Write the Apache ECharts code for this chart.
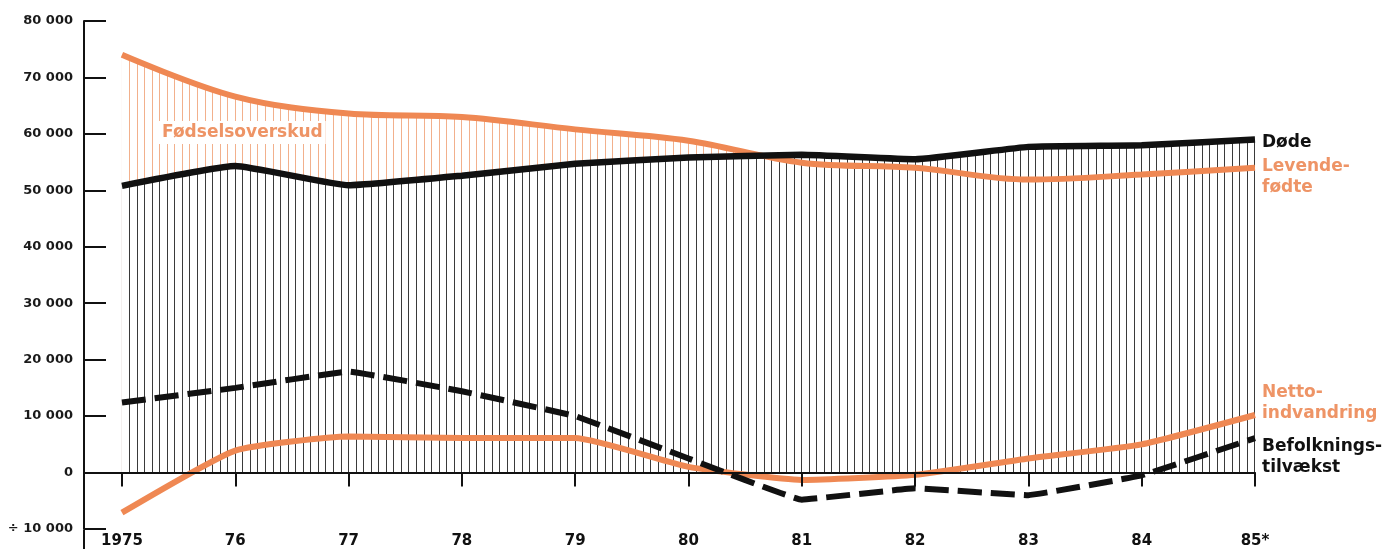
<!DOCTYPE html>
<html><head><meta charset="utf-8">
<script src="https://cdn.jsdelivr.net/npm/echarts@6/dist/echarts.min.js"></script>
<style>html,body{margin:0;padding:0;background:#fff}#c{width:1385px;height:549px}</style>
</head><body><div id="c"></div>
<script>
const years = [1975, 1976, 1977, 1978, 1979, 1980, 1981, 1982, 1983, 1984, 1985];
const yearLabels = ['1975', '76', '77', '78', '79', '80', '81', '82', '83', '84', '85*'];
const levendefodte = [74000, 66600, 63600, 63000, 60800, 58800, 54900, 54000, 51900, 52800, 54000];
const dode = [50800, 54300, 50900, 52600, 54700, 55800, 56300, 55500, 57700, 58000, 59000];
const nettoindvandring = [-7100, 3900, 6400, 6100, 6100, 1000, -1300, -400, 2500, 5000, 10200];
const befolkningstilvaekst = [12400, 15000, 17900, 14400, 10000, 2500, -4800, -2800, -4000, -500, 6100];
const yTicks = [-10000, 0, 10000, 20000, 30000, 40000, 50000, 60000, 70000, 80000];
const hatchPerYear = 15;

const ORANGE = '#EF8853';
const ORANGE_TXT = '#EE9466';
const DARK = '#111';
const FONT = 'DejaVu Sans';

function pairs(arr) { return years.map((y, i) => [y, arr[i]]); }
function fmt(v) {
  const s = String(Math.abs(v)).replace(/\B(?=(\d{3})+(?!\d))/g, ' ');
  return (v < 0 ? '÷ ' : '') + s;
}
const yearIdx = {};
years.forEach((y, i) => yearIdx[y] = yearLabels[i]);

const chart = echarts.init(document.getElementById('c'), null, { renderer: 'canvas' });
const SM_LEV = 0.35, SM_DOD = 0.12, SM_NET = 0.15, SM_BEF = 0.06;

function buildOption(orangePat, blackPat) {
  return {
    animation: false,
    backgroundColor: '#fff',
    grid: { left: 84, right: 130, top: 21, bottom: 19 },
    xAxis: [
      {
        type: 'value', min: 1974.665, max: 1985, z: 10,
        axisLine: { onZero: true, lineStyle: { color: DARK, width: 2 } },
        axisTick: { show: true, customValues: years, length: 14, lineStyle: { color: DARK, width: 2 } },
        axisLabel: { show: false },
        splitLine: { show: false }
      },
      {
        type: 'value', min: 1974.665, max: 1985, position: 'bottom',
        axisLine: { show: false, onZero: false },
        axisTick: { show: false },
        axisLabel: {
          show: true, customValues: years, margin: 5,
          formatter: v => yearIdx[Math.round(v)] || '',
          fontFamily: FONT, fontWeight: 'bold', fontSize: 15, color: DARK
        },
        splitLine: { show: false }
      }
    ],
    yAxis: {
      type: 'value', min: -10000, max: 80000, interval: 10000,
      axisLine: { show: true, lineStyle: { color: DARK, width: 2 } },
      axisTick: { show: true, inside: true, length: 22, lineStyle: { color: DARK, width: 2 } },
      axisLabel: { formatter: fmt, fontFamily: FONT, fontWeight: 'bold', fontSize: 13, color: '#1a1a1a', margin: 11 },
      splitLine: { show: false }
    },
    series: [
      { type: 'line', name: 'area-levende', data: pairs(levendefodte), smooth: SM_LEV, showSymbol: false,
        lineStyle: { width: 0 }, areaStyle: { color: orangePat || 'rgba(0,0,0,0)', opacity: 1 }, z: 1, silent: true },
      { type: 'line', name: 'area-dode', data: pairs(dode), smooth: SM_DOD, showSymbol: false,
        lineStyle: { width: 0 }, areaStyle: { color: blackPat || 'rgba(0,0,0,0)', opacity: 1 }, z: 2, silent: true },
      { type: 'line', name: 'Levendefødte', data: pairs(levendefodte), smooth: SM_LEV, showSymbol: false,
        lineStyle: { color: ORANGE, width: 6 }, z: 3 },
      { type: 'line', name: 'Nettoindvandring', data: pairs(nettoindvandring), smooth: SM_NET, showSymbol: false,
        lineStyle: { color: ORANGE, width: 6 }, z: 3 },
      { type: 'line', name: 'Døde', data: pairs(dode), smooth: SM_DOD, showSymbol: false,
        lineStyle: { color: DARK, width: 6.5 }, z: 4 },
      { type: 'line', name: 'Befolkningstilvækst', data: pairs(befolkningstilvaekst), smooth: SM_BEF, showSymbol: false,
        lineStyle: { color: DARK, width: 6, type: [24, 9] }, z: 4 }
    ],
    graphic: [
      { type: 'line', shape: { x1: 84, y1: 530, x2: 84, y2: 549 }, style: { stroke: DARK, lineWidth: 2 }, z: 20 },
      { type: 'text', left: 159, top: 121, z: 20,
        style: { text: 'Fødselsoverskud', font: 'bold 17px "DejaVu Sans"', fill: ORANGE_TXT,
          backgroundColor: '#fff', padding: [3, 3, 3, 3] } },
      { type: 'text', left: 1262, top: 134, z: 20,
        style: { text: 'Døde', font: 'bold 17px "DejaVu Sans"', fill: DARK } },
      { type: 'text', left: 1262, top: 156, z: 20,
        style: { text: 'Levende-\nfødte', font: 'bold 17px "DejaVu Sans"', fill: ORANGE_TXT, lineHeight: 21 } },
      { type: 'text', left: 1262, top: 382, z: 20,
        style: { text: 'Netto-\nindvandring', font: 'bold 17px "DejaVu Sans"', fill: ORANGE_TXT, lineHeight: 21 } },
      { type: 'text', left: 1262, top: 436, z: 20,
        style: { text: 'Befolknings-\ntilvækst', font: 'bold 17px "DejaVu Sans"', fill: DARK, lineHeight: 21 } }
    ]
  };
}

chart.setOption(buildOption(null, null));

const x0 = chart.convertToPixel({ xAxisIndex: 0 }, years[0]);
const x1 = chart.convertToPixel({ xAxisIndex: 0 }, years[years.length - 1]);
const n = (years.length - 1) * hatchPerYear;
const xs = [];
for (let i = 0; i <= n; i++) xs.push(x0 + (x1 - x0) * i / n);

function makePattern(color, bg) {
  const cv = document.createElement('canvas');
  cv.width = 1385; cv.height = 4;
  const ctx = cv.getContext('2d');
  if (bg) { ctx.fillStyle = bg; ctx.fillRect(0, 0, cv.width, cv.height); }
  ctx.fillStyle = color;
  xs.forEach(x => ctx.fillRect(Math.min(Math.round(x - 0.5), 1254), 0, 1, cv.height));
  return { image: cv, repeat: 'repeat' };
}

chart.setOption(buildOption(makePattern('#F2B08C', null), makePattern('#3a3a3a', '#ffffff')));
</script>
</body></html>
